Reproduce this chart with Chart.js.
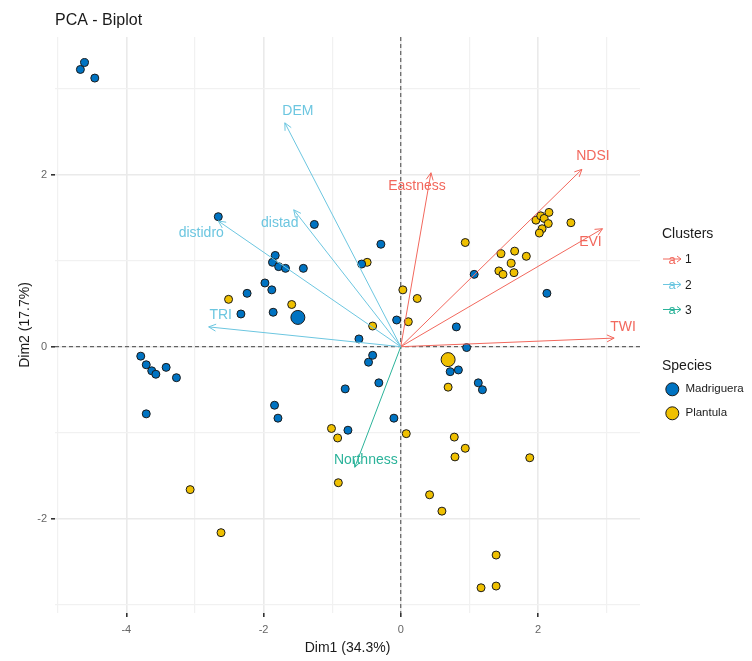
<!DOCTYPE html>
<html lang="en">
<head>
  <meta charset="UTF-8">
  <title>PCA - Biplot</title>
  <script src="https://cdn.jsdelivr.net/npm/chart.js"></script>
  <style>
    body { margin: 0; background: #fff; }
    #wrap { width: 752px; height: 661px; }
  </style>
</head>
<body>
<div id="wrap"><canvas id="biplot" width="752" height="661"></canvas></div>
<script>
  // individuals (Dim1, Dim2)
  const madrigueraX = [-4.67, -4.61, -4.46, -2.66, -1.26, -0.29, -1.83, -1.87, -1.78, -1.68, -1.42, -0.57, -1.98, -1.88,
    -2.24, -2.33, -1.86, -0.06, -0.61, -0.41, -0.47, -3.79, -3.71, -3.63, -3.57, -3.42, -3.27, -3.71, -1.84, -1.79,
    -0.81, -0.32, -0.10, -0.77, 1.07, 2.13, 0.81, 0.96, 0.72, 0.84, 1.13, 1.19];
  const madrigueraY = [3.22, 3.30, 3.12, 1.51, 1.42, 1.19, 1.06, 0.98, 0.93, 0.91, 0.91, 0.96, 0.74, 0.66,
    0.62, 0.38, 0.40, 0.31, 0.09, -0.10, -0.18, -0.11, -0.21, -0.28, -0.32, -0.24, -0.36, -0.78, -0.68, -0.83,
    -0.49, -0.42, -0.83, -0.97, 0.84, 0.62, 0.23, -0.01, -0.29, -0.27, -0.42, -0.50];
  const plantulaX = [-0.49, -2.51, -1.59, 0.03, 0.24, 0.11, -0.41, 0.94, 1.46, 1.66, 1.83, 1.61, 1.43, 1.49, 1.65,
    1.97, 2.04, 2.09, 2.16, 2.15, 2.06, 2.02, 2.48, -1.01, -0.92, -0.91, 0.08, 0.69, 0.78, 0.94, 0.79, 1.88,
    0.42, 0.60, 1.39, 1.17, 1.39, -3.07, -2.62];
  const plantulaY = [0.98, 0.55, 0.49, 0.66, 0.56, 0.29, 0.24, 1.21, 1.08, 1.11, 1.05, 0.97, 0.88, 0.84, 0.86,
    1.47, 1.52, 1.49, 1.56, 1.43, 1.37, 1.32, 1.44, -0.95, -1.06, -1.58, -1.01, -0.47, -1.05, -1.18, -1.28, -1.29,
    -1.72, -1.91, -2.42, -2.80, -2.78, -1.66, -2.16];
  const centroidX = [-1.50, 0.69];
  const centroidY = [0.34, -0.15];
  const speciesNames = ['Madriguera', 'Plantula'];

  // variables (arrow tips) and their cluster
  const varNames = ['DEM', 'distad', 'distidro', 'TRI', 'Eastness', 'NDSI', 'EVI', 'TWI', 'Northness'];
  const varX = [-1.69, -1.56, -2.66, -2.80, 0.44, 2.64, 2.94, 3.11, -0.67];
  const varY = [2.60, 1.59, 1.46, 0.23, 2.02, 2.06, 1.37, 0.10, -1.40];
  const varCluster = [2, 2, 2, 2, 1, 1, 1, 1, 3];
  const clusterNames = ['1', '2', '3'];

  const xTicks = [-4, -2, 0, 2];
  const yTicks = [-2, 0, 2];
  const xGrid = [-5, -4, -3, -2, -1, 0, 1, 2, 3];
  const yGrid = [-3, -2, -1, 0, 1, 2, 3];

  // styling
  const clusterColors = ['#F2685D', '#6CC6E0', '#2BB39A'];
  const speciesColors = ['#0073C2', '#EFC000'];
  const labelShift = [[13, -12], [-14, 13], [-17, 12], [12, -12], [-14, 13], [11, -13], [-12, 13], [9, -11], [11, -7]];
  const FONT = '"Liberation Sans", Arial, sans-serif';

  Chart.defaults.font.family = FONT;

  const toPts = (xs, ys) => xs.map((x, i) => ({ x: x, y: ys[i] }));

  const datasets = [];
  varNames.forEach((name, i) => {
    datasets.push({
      label: name,
      data: [{ x: 0, y: 0 }, { x: varX[i], y: varY[i] }],
      showLine: true,
      borderColor: clusterColors[varCluster[i] - 1],
      borderWidth: 1,
      pointRadius: 0,
      order: 0
    });
  });
  datasets.push({
    label: speciesNames[0], data: toPts(madrigueraX, madrigueraY),
    backgroundColor: speciesColors[0], borderColor: '#1a1a1a', borderWidth: 1, pointRadius: 4, order: 1
  });
  datasets.push({
    label: speciesNames[1], data: toPts(plantulaX, plantulaY),
    backgroundColor: speciesColors[1], borderColor: '#1a1a1a', borderWidth: 1, pointRadius: 4, order: 1
  });
  speciesNames.forEach((name, i) => {
    datasets.push({
      label: name + ' mean', data: [{ x: centroidX[i], y: centroidY[i] }],
      backgroundColor: speciesColors[i], borderColor: '#1a1a1a', borderWidth: 1, pointRadius: 7, order: 1
    });
  });

  const gridStyle = majors => ({
    color: ctx => majors.includes(ctx.tick && ctx.tick.value) ? '#EAEAEA' : '#F1F1F1',
    lineWidth: ctx => majors.includes(ctx.tick && ctx.tick.value) ? 1.6 : 1.2,
    tickColor: ctx => majors.includes(ctx.tick && ctx.tick.value) ? '#333' : 'rgba(0,0,0,0)',
    tickLength: 4,
    drawTicks: true
  });

  const biplotExtras = {
    id: 'biplotExtras',
    beforeDatasetsDraw(chart) {
      const { ctx, chartArea: a, scales: { x, y } } = chart;
      const x0 = x.getPixelForValue(0), y0 = y.getPixelForValue(0);
      ctx.save();
      ctx.setLineDash([4, 3]);
      ctx.lineWidth = 1;
      ctx.strokeStyle = '#444';
      ctx.beginPath();
      ctx.moveTo(a.left, y0); ctx.lineTo(a.right, y0);
      ctx.moveTo(x0, a.top); ctx.lineTo(x0, a.bottom);
      ctx.stroke();
      ctx.restore();
    },
    afterDatasetsDraw(chart) {
      const { ctx, scales: { x, y } } = chart;
      const x0 = x.getPixelForValue(0), y0 = y.getPixelForValue(0);
      ctx.save();
      varNames.forEach((name, i) => {
        const col = clusterColors[varCluster[i] - 1];
        const tx = x.getPixelForValue(varX[i]), ty = y.getPixelForValue(varY[i]);
        const ang = Math.atan2(ty - y0, tx - x0);
        const len = 8, spread = 0.45;
        ctx.strokeStyle = col;
        ctx.lineWidth = 1;
        ctx.beginPath();
        ctx.moveTo(tx - len * Math.cos(ang - spread), ty - len * Math.sin(ang - spread));
        ctx.lineTo(tx, ty);
        ctx.lineTo(tx - len * Math.cos(ang + spread), ty - len * Math.sin(ang + spread));
        ctx.stroke();
        ctx.fillStyle = col;
        ctx.font = '14px ' + FONT;
        ctx.textAlign = 'center';
        ctx.textBaseline = 'middle';
        ctx.fillText(name, tx + labelShift[i][0], ty + labelShift[i][1]);
      });
      ctx.restore();
    },
    afterDraw(chart) {
      const ctx = chart.ctx;
      ctx.save();
      // title
      ctx.fillStyle = '#1a1a1a';
      ctx.font = '16px ' + FONT;
      ctx.textAlign = 'left';
      ctx.textBaseline = 'alphabetic';
      ctx.fillText('PCA - Biplot', 55, 25);

      // legend: clusters
      ctx.font = '14px ' + FONT;
      ctx.fillStyle = '#1a1a1a';
      ctx.fillText('Clusters', 662, 238);
      const itemY = [260, 285.5, 310.5];
      clusterNames.forEach((name, i) => {
        const yy = itemY[i];
        ctx.strokeStyle = clusterColors[i];
        ctx.fillStyle = clusterColors[i];
        ctx.lineWidth = 1;
        ctx.beginPath();
        ctx.moveTo(663, yy - 1); ctx.lineTo(681, yy - 1);
        ctx.moveTo(677, yy - 4); ctx.lineTo(681, yy - 1); ctx.lineTo(677, yy + 2);
        ctx.stroke();
        ctx.font = '13px ' + FONT;
        ctx.textAlign = 'center';
        ctx.textBaseline = 'middle';
        ctx.fillText('a', 672, yy);
        ctx.fillStyle = '#1a1a1a';
        ctx.font = '12px ' + FONT;
        ctx.textAlign = 'left';
        ctx.fillText(name, 685, yy);
      });

      // legend: species
      ctx.font = '14px ' + FONT;
      ctx.textAlign = 'left';
      ctx.textBaseline = 'alphabetic';
      ctx.fillStyle = '#1a1a1a';
      ctx.fillText('Species', 662, 370);
      const spY = [389.3, 413.3];
      speciesNames.forEach((name, i) => {
        ctx.beginPath();
        ctx.arc(672.3, spY[i], 6.5, 0, Math.PI * 2);
        ctx.fillStyle = speciesColors[i];
        ctx.fill();
        ctx.strokeStyle = '#1a1a1a';
        ctx.lineWidth = 1;
        ctx.stroke();
        ctx.fillStyle = '#1a1a1a';
        ctx.font = '11.5px ' + FONT;
        ctx.textBaseline = 'middle';
        ctx.fillText(name, 685.5, spY[i]);
      });
      ctx.restore();
    }
  };

  new Chart(document.getElementById('biplot'), {
    type: 'scatter',
    data: { datasets: datasets },
    options: {
      responsive: false,
      animation: false,
      layout: { padding: { top: 37, right: 112, bottom: 0, left: 0 } },
      plugins: { legend: { display: false }, tooltip: { enabled: false } },
      scales: {
        x: {
          type: 'linear', min: -5.04, max: 3.487,
          afterBuildTicks: s => { s.ticks = xGrid.map(v => ({ value: v })); },
          afterFit: s => { s.height = 48; },
          ticks: {
            autoSkip: false, maxRotation: 0, padding: 6, color: '#666', font: { size: 11 },
            callback: v => xTicks.includes(v) ? String(v) : ''
          },
          grid: gridStyle(xTicks),
          border: { display: false },
          title: { display: true, text: 'Dim1 (34.3%)', color: '#1a1a1a', font: { size: 14 }, padding: { top: 0, bottom: 4 } }
        },
        y: {
          type: 'linear', min: -3.093, max: 3.597,
          afterBuildTicks: s => { s.ticks = yGrid.map(v => ({ value: v })); },
          afterFit: s => { s.width = 55; },
          ticks: {
            autoSkip: false, padding: 4, color: '#666', font: { size: 11 },
            callback: v => yTicks.includes(v) ? String(v) : ''
          },
          grid: gridStyle(yTicks),
          border: { display: false },
          title: { display: true, text: 'Dim2 (17.7%)', color: '#1a1a1a', font: { size: 14 }, padding: { top: 17, bottom: 0 } }
        }
      }
    },
    plugins: [biplotExtras]
  });
</script>
</body>
</html>
